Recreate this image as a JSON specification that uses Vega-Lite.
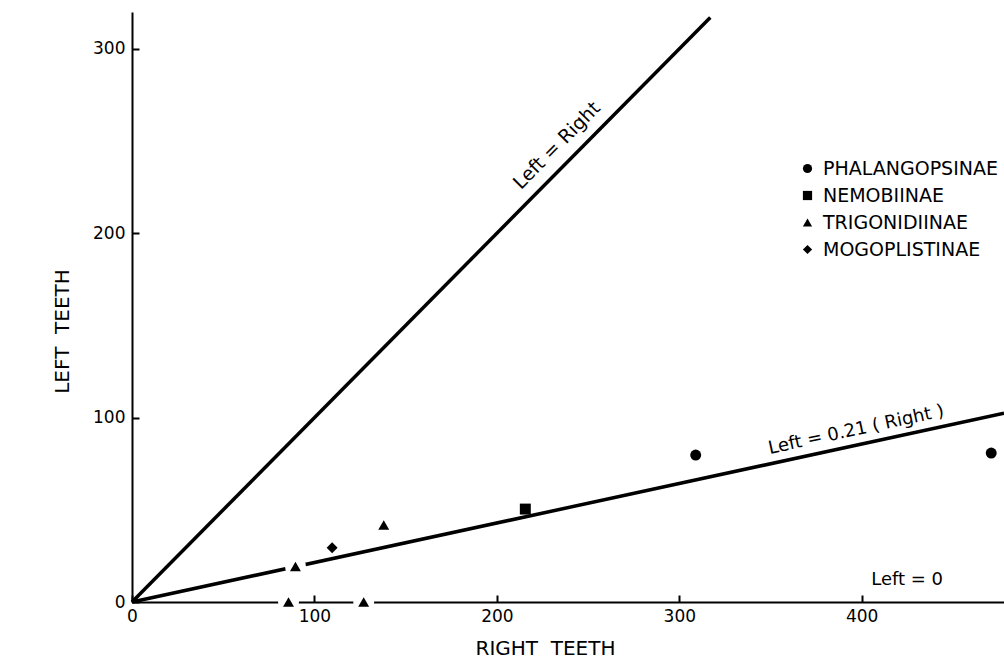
{
  "$schema": "https://vega.github.io/schema/vega-lite/v6.json",
  "width": 872,
  "height": 590,
  "autosize": {"type": "none"},
  "padding": {"left": 132, "top": 12, "right": 0, "bottom": 58},
  "background": "white",
  "config": {
    "view": {"stroke": null},
    "font": "DejaVu Sans",
    "axis": {
      "grid": false,
      "domainColor": "black",
      "domainWidth": 2,
      "tickColor": "black",
      "tickWidth": 2,
      "tickSize": -7,
      "labelColor": "black",
      "labelFont": "DejaVu Sans",
      "labelFontSize": 17,
      "labelFlush": false,
      "labelOverlap": false,
      "titleColor": "black",
      "titleFont": "DejaVu Sans",
      "titleFontSize": 20,
      "titleFontWeight": "normal"
    }
  },
  "datasets": {
    "points": [
      {"family": "PHALANGOPSINAE", "x": 309, "y": 79.7},
      {"family": "PHALANGOPSINAE", "x": 471, "y": 80.8},
      {"family": "NEMOBIINAE", "x": 215.6, "y": 50.4},
      {"family": "TRIGONIDIINAE", "x": 89.6, "y": 19.2},
      {"family": "TRIGONIDIINAE", "x": 138, "y": 41.7},
      {"family": "TRIGONIDIINAE", "x": 85.8, "y": 0},
      {"family": "TRIGONIDIINAE", "x": 127, "y": 0},
      {"family": "MOGOPLISTINAE", "x": 109.7, "y": 29.4}
    ],
    "lines": [
      {"line": "Left = Right", "x": 0, "y": 0},
      {"line": "Left = Right", "x": 317, "y": 317},
      {"line": "Left = 0.21 (Right)", "x": 0, "y": 0},
      {"line": "Left = 0.21 (Right)", "x": 478, "y": 102.4}
    ]
  },
  "layer": [
    {
      "data": {"name": "lines"},
      "mark": {"type": "line", "color": "black", "strokeWidth": 3.5},
      "encoding": {
        "x": {
          "field": "x", "type": "quantitative",
          "scale": {"domain": [0, 478], "nice": false},
          "axis": {
            "values": [0, 100, 200, 300, 400],
            "title": "RIGHT\u00a0\u00a0TEETH",
            "labelPadding": 13,
            "titleX": 413,
            "titleY": 52,
            "titleAlign": "center",
            "titleBaseline": "alphabetic"
          }
        },
        "y": {
          "field": "y", "type": "quantitative",
          "scale": {"domain": [0, 320], "nice": false},
          "axis": {
            "values": [0, 100, 200, 300],
            "title": "LEFT\u00a0\u00a0TEETH",
            "labelPadding": 14,
            "titleX": -64,
            "titleY": 319,
            "titleAlign": "center",
            "titleBaseline": "alphabetic"
          }
        },
        "detail": {"field": "line", "type": "nominal"}
      }
    },
    {
      "data": {"name": "points"},
      "transform": [{"filter": "datum.family === 'TRIGONIDIINAE'"}],
      "mark": {"type": "point", "shape": "circle", "filled": true, "color": "white", "opacity": 1, "size": 441, "strokeWidth": 0},
      "encoding": {
        "x": {"field": "x", "type": "quantitative"},
        "y": {"field": "y", "type": "quantitative"}
      }
    },
    {
      "data": {"name": "points"},
      "mark": {"type": "point", "filled": true, "color": "black", "opacity": 1, "size": 120},
      "encoding": {
        "x": {"field": "x", "type": "quantitative"},
        "y": {"field": "y", "type": "quantitative"},
        "shape": {
          "field": "family", "type": "nominal",
          "scale": {
            "domain": ["PHALANGOPSINAE", "NEMOBIINAE", "TRIGONIDIINAE", "MOGOPLISTINAE"],
            "range": ["circle", "square", "triangle-up", "diamond"]
          },
          "legend": {
            "title": null,
            "orient": "none",
            "legendX": 666,
            "legendY": 147,
            "padding": 0,
            "labelFont": "DejaVu Sans",
            "labelFontSize": 19,
            "labelColor": "black",
            "labelLimit": 0,
            "labelOffset": 6,
            "rowPadding": 7,
            "symbolSize": 85,
            "symbolFillColor": "black",
            "symbolStrokeColor": "black",
            "symbolStrokeWidth": 0,
            "symbolOpacity": 1
          }
        }
      }
    },
    {
      "data": {"values": [{"label": "Left = Right", "x": 232.9, "y": 247.6}]},
      "mark": {"type": "text", "angle": -45.3, "align": "center", "baseline": "middle", "font": "DejaVu Sans", "fontSize": 19, "color": "black"},
      "encoding": {
        "x": {"field": "x", "type": "quantitative"},
        "y": {"field": "y", "type": "quantitative"},
        "text": {"field": "label"}
      }
    },
    {
      "data": {"values": [{"label": "Left = 0.21 ( Right )", "x": 397, "y": 93.2}]},
      "mark": {"type": "text", "angle": -12.2, "align": "center", "baseline": "middle", "font": "DejaVu Sans", "fontSize": 18, "color": "black"},
      "encoding": {
        "x": {"field": "x", "type": "quantitative"},
        "y": {"field": "y", "type": "quantitative"},
        "text": {"field": "label"}
      }
    },
    {
      "data": {"values": [{"label": "Left = 0", "x": 424.9, "y": 11.7}]},
      "mark": {"type": "text", "align": "center", "baseline": "middle", "font": "DejaVu Sans", "fontSize": 18, "color": "black"},
      "encoding": {
        "x": {"field": "x", "type": "quantitative"},
        "y": {"field": "y", "type": "quantitative"},
        "text": {"field": "label"}
      }
    }
  ]
}
